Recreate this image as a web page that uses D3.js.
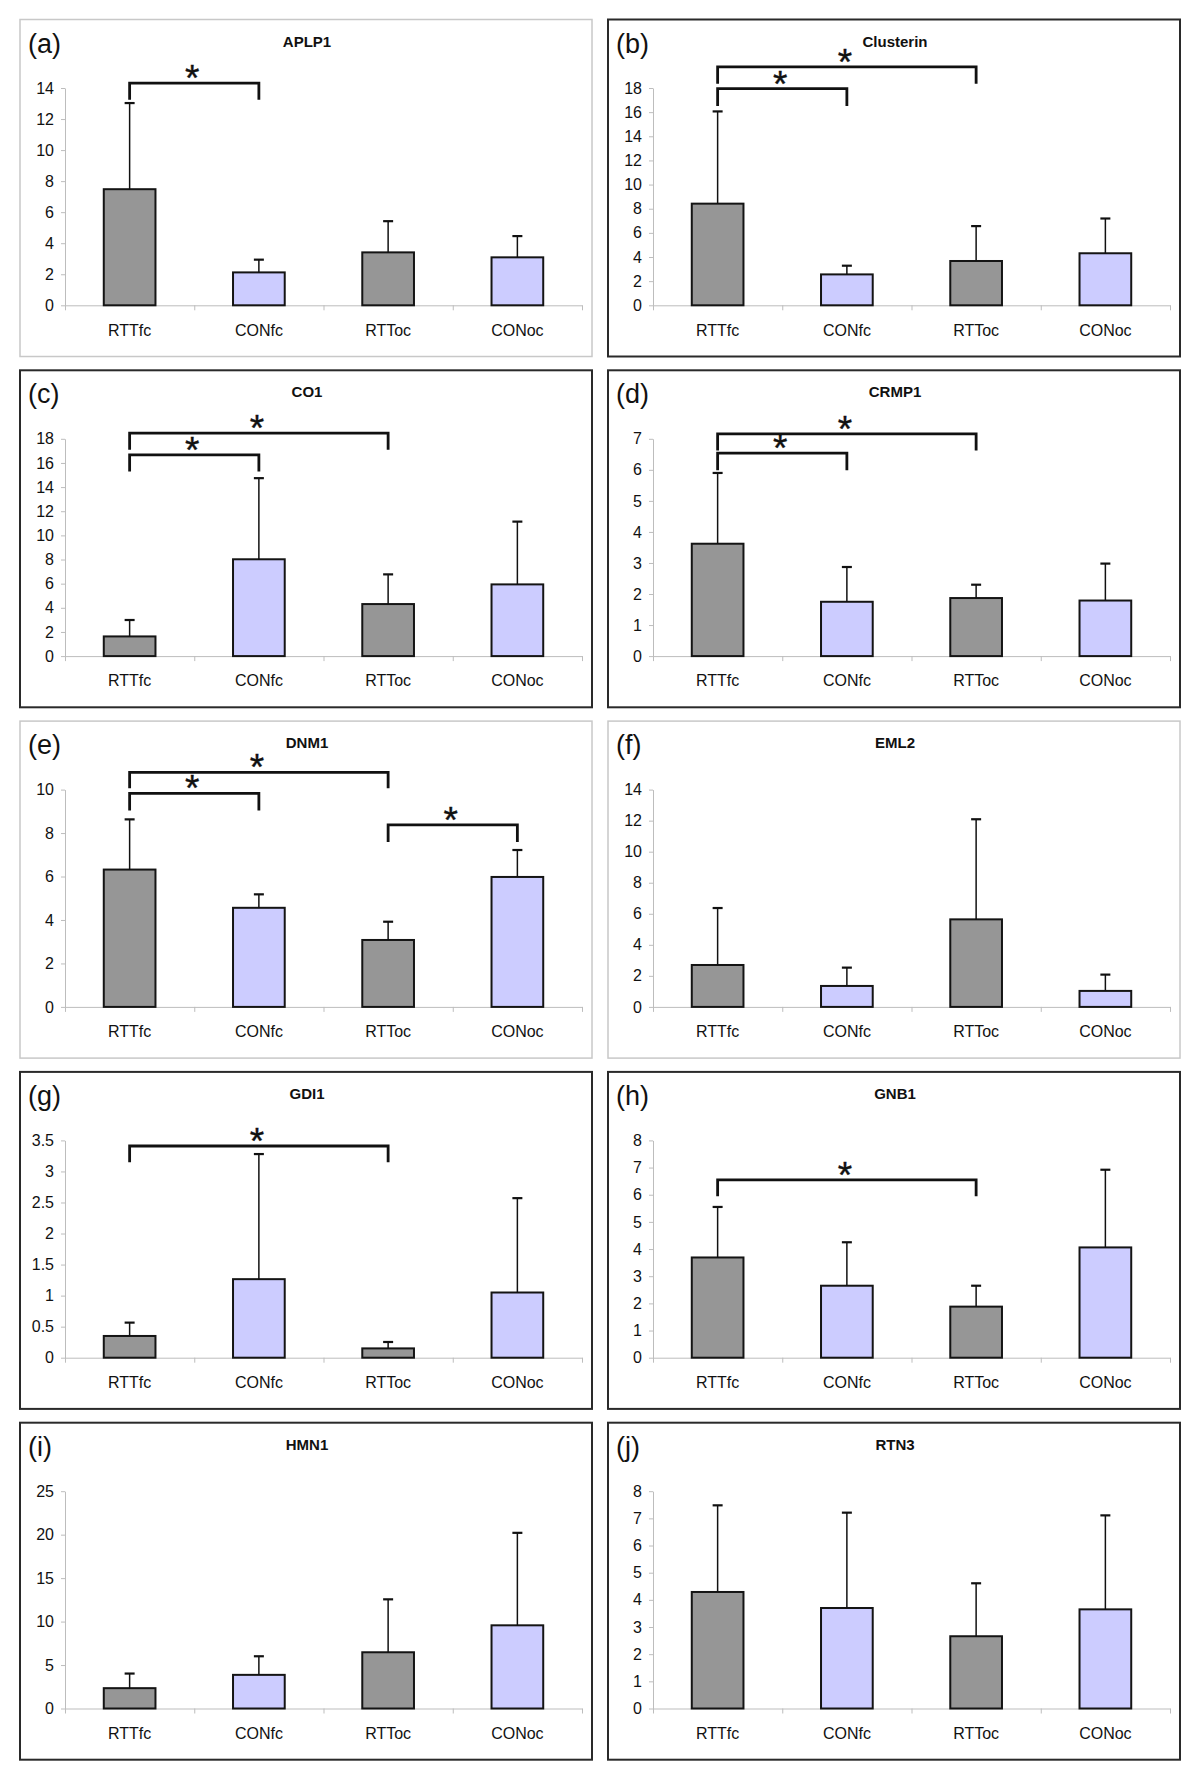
<!DOCTYPE html>
<html>
<head>
<meta charset="utf-8">
<script src="https://cdn.jsdelivr.net/npm/d3@7"></script>
<style>
  html, body { margin: 0; padding: 0; background: #fff; }
  svg { display: block; }
  text { font-family: "Liberation Sans", Arial, Helvetica, sans-serif; }
</style>
</head>
<body>
<svg id="chart" width="1200" height="1781"></svg>
<script>
// ---------------- DATA ----------------
const categories = ["RTTfc", "CONfc", "RTToc", "CONoc"];
const panelLabels = ["(a)", "(b)", "(c)", "(d)", "(e)", "(f)", "(g)", "(h)", "(i)", "(j)"];
const genes = ["APLP1", "Clusterin", "CO1", "CRMP1", "DNM1", "EML2", "GDI1", "GNB1", "HMN1", "RTN3"];

// mean values per panel (RTTfc, CONfc, RTToc, CONoc)
const meanValues = [
  [7.48, 2.12, 3.41, 3.09],
  [8.42, 2.56, 3.67, 4.31],
  [1.63, 8.02, 4.31, 5.94],
  [3.62, 1.75, 1.87, 1.79],
  [6.32, 4.56, 3.08, 5.98],
  [2.70, 1.35, 5.64, 1.03],
  [0.35, 1.265, 0.15, 1.05],
  [3.69, 2.65, 1.88, 4.06],
  [2.34, 3.87, 6.47, 9.57],
  [4.29, 3.70, 2.66, 3.65]
];
// upper error (SD) per panel
const sdValues = [
  [5.55, 0.82, 2.01, 1.37],
  [7.64, 0.72, 2.89, 2.88],
  [1.36, 6.72, 2.46, 5.20],
  [2.28, 1.12, 0.43, 1.19],
  [2.31, 0.62, 0.84, 1.24],
  [3.67, 1.18, 6.45, 1.05],
  [0.215, 2.015, 0.103, 1.52],
  [1.86, 1.60, 0.77, 2.86],
  [1.68, 2.14, 6.09, 10.64],
  [3.19, 3.51, 1.95, 3.46]
];
// y axis maxima and tick steps
const yMaxValues = [14, 18, 18, 7, 10, 14, 3.5, 8, 25, 8];
const yStepValues = [2, 2, 2, 1, 2, 2, 0.5, 1, 5, 1];
// frame style: true = light grey frame
const lightFrame = [true, false, false, false, true, true, false, false, false, false];
// significance brackets: [fromIndex, toIndex, level, legEnd] in data units
const brackets = [
  [[0, 1, 14.32, 13.25]],
  [[0, 1, 17.94, 16.5], [0, 2, 19.75, 18.36]],
  [[0, 1, 16.67, 15.29], [0, 2, 18.47, 17.09]],
  [[0, 1, 6.54, 5.99], [0, 2, 7.16, 6.62]],
  [[0, 1, 9.83, 9.04], [0, 2, 10.79, 10.06], [2, 3, 8.38, 7.59]],
  [],
  [[0, 2, 3.41, 3.15]],
  [[0, 2, 6.55, 5.94]],
  [],
  []
];
const barColors = ["#969696", "#CCCCFF", "#969696", "#CCCCFF"];

// ---------------- LAYOUT ----------------
const svg = d3.select("#chart");
const colX = [20, 608];
const rowY0 = 19.5, rowPitch = 350.8;
const frameW = 572, frameH = 337;
const plotL = 45, plotW = 517, plotT = 68.5, plotB = 285.8;
const FONT = "'Liberation Sans', Arial, sans-serif";

genes.forEach((gene, i) => {
  const col = i % 2, row = Math.floor(i / 2);
  const fx = colX[col], fy = rowY0 + row * rowPitch;
  const g = svg.append("g").attr("transform", `translate(${fx},${fy})`);

  // frame
  g.append("rect")
    .attr("x", 0).attr("y", 0).attr("width", frameW).attr("height", frameH)
    .attr("fill", "#fff")
    .attr("stroke", lightFrame[i] ? "#c8c8c8" : "#2a2a2a")
    .attr("stroke-width", lightFrame[i] ? 1.5 : 2);

  // panel label
  g.append("text").attr("x", 8).attr("y", 33)
    .attr("font-size", 27).attr("fill", "#111").text(panelLabels[i]);
  // title
  g.append("text").attr("x", frameW / 2 + 1).attr("y", 27)
    .attr("text-anchor", "middle").attr("font-size", 15).attr("font-weight", "bold")
    .attr("fill", "#111").text(gene);

  const p = g.append("g").attr("transform", `translate(${plotL},0)`);
  const x = d3.scaleBand().domain(categories).range([0, plotW]).paddingInner(0.6).paddingOuter(0.3);
  const xb = d3.scaleLinear().domain([0, categories.length]).range([0, plotW]);
  const y = d3.scaleLinear().domain([0, yMaxValues[i]]).range([plotB, plotT]);

  // y axis
  const ticks = d3.range(0, yMaxValues[i] + 1e-9, yStepValues[i]);
  const ya = p.append("g").call(d3.axisLeft(y).tickValues(ticks).tickSize(4).tickSizeOuter(0).tickPadding(7).tickFormat(d => String(+d.toFixed(2))));
  ya.select(".domain").attr("stroke", "#bdbdbd");
  ya.selectAll(".tick line").attr("stroke", "#bdbdbd");
  ya.selectAll(".tick text").attr("font-size", 16).attr("fill", "#111")
    .style("font-family", FONT);

  // x axis boundaries
  const xa = p.append("g").attr("transform", `translate(0,${plotB})`)
    .call(d3.axisBottom(xb).tickValues(d3.range(0, categories.length + 1)).tickSize(5).tickSizeOuter(0).tickFormat(""));
  xa.select(".domain").attr("stroke", "#bdbdbd");
  xa.selectAll(".tick line").attr("stroke", "#bdbdbd");
  // category labels
  const xl = p.append("g").attr("transform", `translate(0,${plotB})`)
    .call(d3.axisBottom(x).tickSize(0).tickPadding(19));
  xl.select(".domain").remove();
  xl.selectAll(".tick text").attr("font-size", 16).attr("fill", "#111")
    .style("font-family", FONT);

  // bars
  const data = categories.map((c, k) => ({ c, k, m: meanValues[i][k], sd: sdValues[i][k] }));
  p.selectAll("rect.bar").data(data).enter().append("rect")
    .attr("class", "bar")
    .attr("x", d => x(d.c)).attr("width", x.bandwidth())
    .attr("y", d => y(d.m)).attr("height", d => y(0) - y(d.m))
    .attr("fill", d => barColors[d.k]).attr("stroke", "#141414").attr("stroke-width", 2);

  // error bars
  const eb = p.selectAll("g.err").data(data).enter().append("g").attr("class", "err");
  eb.append("line")
    .attr("x1", d => x(d.c) + x.bandwidth() / 2).attr("x2", d => x(d.c) + x.bandwidth() / 2)
    .attr("y1", d => y(d.m)).attr("y2", d => y(d.m + d.sd))
    .attr("stroke", "#111").attr("stroke-width", 1.5);
  eb.append("line")
    .attr("x1", d => x(d.c) + x.bandwidth() / 2 - 5).attr("x2", d => x(d.c) + x.bandwidth() / 2 + 5)
    .attr("y1", d => y(d.m + d.sd)).attr("y2", d => y(d.m + d.sd))
    .attr("stroke", "#111").attr("stroke-width", 2.2);

  // significance brackets
  brackets[i].forEach(b => {
    const x1 = x(categories[b[0]]) + x.bandwidth() / 2;
    const x2 = x(categories[b[1]]) + x.bandwidth() / 2;
    const yl = y(b[2]), ye = y(b[3]);
    p.append("path")
      .attr("d", `M${x1},${ye}V${yl}H${x2}V${ye}`)
      .attr("fill", "none").attr("stroke", "#111").attr("stroke-width", 2.8);
    p.append("text").attr("x", (x1 + x2) / 2 - 2).attr("y", yl + 8)
      .attr("text-anchor", "middle").attr("font-size", 37).attr("fill", "#111")
      .attr("stroke", "#111").attr("stroke-width", 0.4).text("*");
  });
});
</script>
</body>
</html>
